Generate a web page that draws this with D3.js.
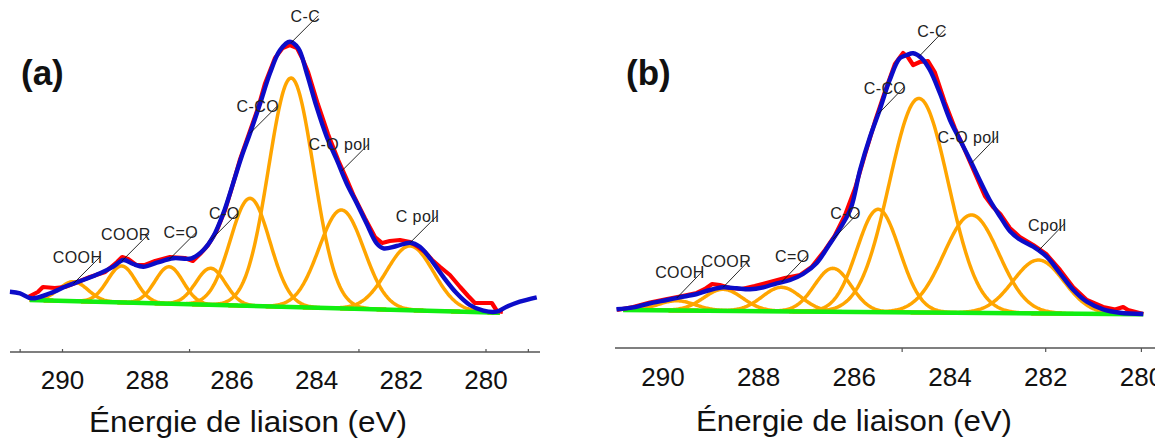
<!DOCTYPE html>
<html><head><meta charset="utf-8">
<script src="https://cdn.jsdelivr.net/npm/d3@7"></script>
<style>
html,body{margin:0;padding:0;background:#fff;overflow:hidden}
svg{display:block}
</style></head><body>
<svg id="chart" width="1155" height="441"></svg>
<script>
// ---------------- DATA ----------------
const tickLabels = [290, 288, 286, 284, 282, 280];
const tickMarksA = [291, 290, 287, 283, 280, 279];
const tickMarksB = [285, 282, 280];
const axisTitle = "Énergie de liaison (eV)";
const panelTags = ["(a)", "(b)"];

const peakNamesA = ["COOH", "COOR", "C=O", "C-O", "C-CO", "C-C", "C-O poll", "C poll"];
const peakCentersA = [289.73, 288.59, 287.47, 286.49, 285.56, 284.59, 283.40, 281.78];
const peakHeightsA = [19.5, 36.5, 37, 36.6, 107.6, 229, 98.4, 64.3];
const peakFwhmA = [0.8, 0.78, 0.78, 0.82, 1.1, 1.25, 1.25, 1.3];
const baselineA = [[290.76, 52], [279.66, 39.3]];
const envelopeA = [[291.23,60.3],[290.99,58.7],[290.72,53.7],[290.28,58.7],[289.89,66],[289.50,72],[289.10,78.7],[288.79,85.3],[288.55,92],[288.32,88],[288.08,85.3],[287.76,89.3],[287.37,93.7],[286.94,93.7],[286.66,102],[286.43,115.3],[286.19,138.7],[285.96,168.7],[285.76,195.3],[285.56,218.7],[285.32,248.7],[285.09,278.7],[284.85,302],[284.62,310.3],[284.42,303.7],[284.22,278.7],[283.99,245.3],[283.75,215.3],[283.51,192],[283.28,168.7],[283.04,148.7],[282.81,128.7],[282.57,108.7],[282.41,103.7],[282.10,106],[281.78,109.3],[281.55,105.3],[281.31,93.7],[281.00,75.3],[280.68,58.7],[280.37,47],[280.05,41.3],[279.74,40.3],[279.50,45.3],[279.19,50.3],[278.79,54.7]];
const measuredA = [[290.80,55],[290.57,60],[290.45,65],[290.17,64],[289.93,65],[289.69,69],[289.34,75],[288.98,80],[288.70,90],[288.58,95],[288.44,93],[288.25,87],[288.04,87],[287.80,91],[287.45,95],[287.10,94],[286.91,91],[286.74,98],[286.55,107],[286.36,120],[286.15,142],[285.99,164],[285.80,192],[285.56,221],[285.37,244],[285.21,268],[284.97,294],[284.79,304],[284.62,307],[284.45,304],[284.33,294],[284.19,280],[283.96,248],[283.72,218],[283.48,192],[283.29,174],[283.11,156],[282.85,134],[282.61,115],[282.44,109],[282.26,111],[282.02,112],[281.78,110],[281.59,105],[281.43,100],[281.26,92],[281.07,85],[280.84,77],[280.60,65],[280.41,56],[280.25,49],[280.01,49],[279.85,49],[279.73,41],[279.59,40]];

const peakNamesB = ["COOH", "COOR", "C=O", "C-O", "C-CO", "C-C", "C-O poll", "Cpoll"];
const peakCentersB = [289.70, 288.73, 287.51, 286.44, 285.49, 284.64, 283.54, 282.14];
const peakHeightsB = [9.7, 21.5, 24, 43.4, 102.8, 214, 97.9, 53.4];
const peakFwhmB = [0.9, 0.95, 0.95, 0.9, 1.05, 1.45, 1.35, 1.25];
const baselineB = [[290.82, 38], [279.95, 33.7]];
const envelopeB = [[290.96,38.7],[290.61,40.7],[290.26,44.7],[289.91,48],[289.63,50.7],[289.28,54],[289.01,58],[288.73,60.7],[288.45,59.7],[288.17,58.7],[287.89,60.7],[287.61,64.7],[287.33,68],[287.06,74],[286.78,84.7],[286.54,101.3],[286.27,121],[286.06,140],[285.87,178],[285.66,211.3],[285.46,238],[285.25,268],[285.04,289.7],[284.89,293],[284.76,294.7],[284.58,289.7],[284.41,278],[284.20,254.7],[283.99,228],[283.78,208],[283.57,188],[283.36,167],[283.16,148],[282.94,131.3],[282.74,117],[282.53,108.5],[282.25,101.3],[281.97,91.3],[281.69,74.7],[281.41,58],[281.13,46.3],[280.79,38.7],[280.44,35.3],[279.95,34]];
const measuredB = [[290.95,38],[290.61,41],[290.26,45.5],[289.90,49],[289.63,51.5],[289.28,55],[289.11,59],[288.96,64],[288.80,63],[288.59,60],[288.34,59],[288.07,62],[287.75,66],[287.44,70],[287.12,73],[286.88,81],[286.60,98],[286.40,112],[286.19,132],[285.97,160],[285.77,193],[285.56,226],[285.35,256],[285.14,284],[284.97,295],[284.87,291],[284.76,283],[284.62,286],[284.45,287],[284.31,276],[284.10,246],[283.89,220],[283.68,198],[283.47,175],[283.26,152],[283.09,141],[282.94,134],[282.74,120],[282.53,111],[282.25,103],[281.98,94],[281.69,78],[281.42,61],[281.13,48],[280.79,41],[280.54,38.5],[280.37,41],[280.27,38],[279.95,34]];

// ---------------- LAYOUT ----------------
const svg = d3.select("#chart");
const FONT = "'Liberation Sans', Arial, Helvetica, sans-serif";
const COLORS = {env: "#0c0cc8", meas: "#ff0000", comp: "#ffa500", base: "#11ee11", axis: "#555", text: "#111"};

const panels = [
  {tag: panelTags[0], tagX: 21, tagY: 85,
   xRange: [62, 485.5], yRange: [352, 52], axisY: 352, axisX: [10, 540],
   marks: tickMarksA, markSize: -3, labelY: 37, titleX: 248, titleY: 432, titleLen: 318,
   names: peakNamesA, centers: peakCentersA, heights: peakHeightsA, fwhm: peakFwhmA,
   base: baselineA, env: envelopeA, meas: measuredA, lead: [27, -27], txtOff: [2, 6]},
  {tag: panelTags[1], tagX: 626, tagY: 85,
   xRange: [662.4, 1140.9], yRange: [348, 48], axisY: 348, axisX: [615, 1155],
   marks: tickMarksB, markSize: 4, labelY: 38, titleX: 854, titleY: 431, titleLen: 316,
   names: peakNamesB, centers: peakCentersB, heights: peakHeightsB, fwhm: peakFwhmB,
   base: baselineB, env: envelopeB, meas: measuredB, lead: [26, -27], txtOff: [2, 7]}
];

function interp(arr, ev) {
  for (let i = 0; i < arr.length - 1; i++) {
    const a = arr[i], b = arr[i + 1];
    if (ev <= a[0] && ev >= b[0]) {
      const t = (a[0] - ev) / (a[0] - b[0]);
      return a[1] + t * (b[1] - a[1]);
    }
  }
  return arr[arr.length - 1][1];
}

panels.forEach(p => {
  const x = d3.scaleLinear().domain([290, 280]).range(p.xRange);
  const y = d3.scaleLinear().domain([0, 300]).range(p.yRange);
  const g = svg.append("g");

  const baseAt = ev => {
    const [[e0, v0], [e1, v1]] = p.base;
    return v0 + (ev - e0) / (e1 - e0) * (v1 - v0);
  };
  const line = d3.line().x(d => x(d[0])).y(d => y(d[1]));

  // fitted components (peak model from read centre / height / FWHM)
  const evs = d3.range(p.base[0][0], p.base[1][0] - 0.001, -0.02);
  p.centers.forEach((c, i) => {
    const h = p.heights[i], w = p.fwhm[i];
    const pts = evs.map(ev => [ev, baseAt(ev) + h * Math.exp(-4 * Math.LN2 * (ev - c) * (ev - c) / (w * w))]);
    g.append("path").attr("d", line(pts)).attr("fill", "none")
      .attr("stroke", COLORS.comp).attr("stroke-width", 3.5).attr("stroke-linejoin", "round");
  });

  // baseline
  g.append("path").attr("d", line(p.base)).attr("fill", "none")
    .attr("stroke", COLORS.base).attr("stroke-width", 4.5);

  // measured
  g.append("path").attr("d", line(p.meas)).attr("fill", "none")
    .attr("stroke", COLORS.meas).attr("stroke-width", 4.2).attr("stroke-linejoin", "round");

  // envelope
  g.append("path").attr("d", line.curve(d3.curveCatmullRom.alpha(0.5))(p.env)).attr("fill", "none")
    .attr("stroke", COLORS.env).attr("stroke-width", 4.4).attr("stroke-linejoin", "round");
  line.curve(d3.curveLinear);

  // labels with leader lines
  p.names.forEach((name, i) => {
    const ev = p.centers[i];
    const tx = x(ev), ty = y(interp(p.env, ev));
    const ex = tx + p.lead[0], ey = ty + p.lead[1];
    g.append("line").attr("x1", tx).attr("y1", ty).attr("x2", ex).attr("y2", ey)
      .attr("stroke", "#111").attr("stroke-width", 0.9);
    g.append("text").attr("x", ex + p.txtOff[0]).attr("y", ey + p.txtOff[1])
      .attr("text-anchor", "end").attr("font-family", FONT).attr("font-size", 16)
      .attr("letter-spacing", 0.4).attr("fill", "#222").text(name);
  });

  // axis line
  g.append("line").attr("x1", p.axisX[0]).attr("x2", p.axisX[1])
    .attr("y1", p.axisY).attr("y2", p.axisY).attr("stroke", COLORS.axis).attr("stroke-width", 1.6);

  // tick marks
  const marks = g.append("g").attr("transform", `translate(0,${p.axisY})`)
    .call(d3.axisBottom(x).tickValues(p.marks).tickSize(p.markSize).tickFormat(""));
  marks.select(".domain").remove();
  marks.selectAll("line").attr("stroke", COLORS.axis).attr("stroke-width", 1.2);

  // tick labels
  const lab = g.append("g").attr("transform", `translate(0,${p.axisY})`)
    .call(d3.axisBottom(x).tickValues(tickLabels).tickSize(0).tickFormat(d3.format("d")));
  lab.select(".domain").remove();
  lab.attr("font-family", FONT).attr("font-size", 26);
  lab.selectAll("text").attr("y", p.labelY).attr("dy", null).attr("fill", COLORS.text);

  // title
  g.append("text").attr("x", p.titleX).attr("y", p.titleY).attr("text-anchor", "middle")
    .attr("font-family", FONT).attr("font-size", 29).attr("fill", COLORS.text)
    .attr("textLength", p.titleLen).attr("lengthAdjust", "spacingAndGlyphs").text(axisTitle);

  // panel tag
  g.append("text").attr("x", p.tagX).attr("y", p.tagY).attr("font-family", FONT)
    .attr("font-size", 35).attr("font-weight", "bold").attr("fill", COLORS.text).text(p.tag);
});
</script>
</body></html>
